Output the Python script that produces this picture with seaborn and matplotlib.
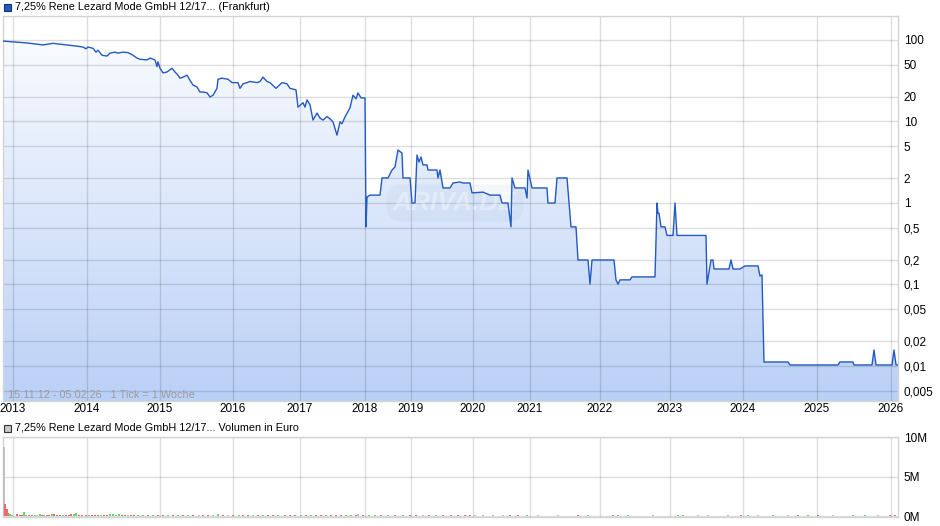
import numpy as np
import pandas as pd
import matplotlib
matplotlib.use("Agg")
import matplotlib.pyplot as plt
import seaborn as sns
from matplotlib.patches import Rectangle
from matplotlib.colors import LinearSegmentedColormap

# x axis is tick based (1 tick = 1 week, gaps skipped) -> positions are tick indices
year_labels = ['2013', '2014', '2015', '2016', '2017', '2018', '2019',
               '2020', '2021', '2022', '2023', '2024', '2025', '2026']
year_ticks = [10, 84, 157, 230, 297, 362, 408, 470, 527, 597, 667, 740, 814, 888]

price_ticks = [0, 10, 24, 30, 40, 50, 64, 74, 80, 83,
               85, 90, 93, 95, 99, 104, 107, 112, 115, 120,
               125, 130, 134, 137, 144, 147, 152, 154, 155, 157,
               160, 164, 169, 172, 175, 177, 180, 184, 187, 190,
               194, 197, 200, 204, 207, 210, 214, 215, 219, 225,
               229, 235, 237, 240, 244, 247, 254, 257, 260, 264,
               267, 273, 279, 284, 287, 290, 293, 295, 300, 302,
               304, 307, 310, 314, 317, 320, 324, 327, 330, 334,
               337, 339, 342, 347, 350, 353, 355, 358, 361, 362,
               363, 364, 367, 377, 379, 385, 389, 392, 395, 399,
               400, 407, 409, 412, 414, 416, 418, 420, 424, 425,
               434, 435, 437, 440, 447, 450, 457, 460, 467, 469,
               480, 487, 497, 499, 505, 508, 509, 512, 522, 524,
               525, 529, 544, 545, 552, 554, 564, 568, 573, 575,
               585, 587, 589, 611, 613, 615, 617, 627, 629, 652,
               654, 655, 656, 658, 662, 664, 670, 672, 674, 703,
               704, 708, 710, 711, 726, 728, 730, 737, 742, 755,
               757, 759, 761, 785, 787, 835, 837, 850, 851, 869,
               871, 873, 889, 891, 893, 895]
price_vals = [97, 95, 92, 90, 87, 91, 87, 84, 82, 78,
              82, 79, 71, 75, 65, 63.5, 69, 71, 69, 71,
              70, 65, 60, 58, 57, 60, 57, 47, 54, 45,
              39.5, 40.5, 45, 40.5, 37, 34, 35, 37, 32, 28,
              26.5, 23, 23, 22.5, 20, 21, 25.5, 33, 34, 33,
              30, 30, 25.5, 29, 30, 31, 30, 31, 35, 31,
              30, 25.5, 30, 29, 25.5, 25, 24.4, 15, 17, 15,
              18.4, 16, 10.4, 12.7, 11, 10.4, 11.5, 10.8, 9.9, 6.8,
              9.9, 9.4, 11.4, 14.7, 21, 19, 22.4, 19.5, 19.4, 19.4,
              0.51, 1.18, 1.25, 1.25, 2.03, 2.03, 2.54, 2.77, 4.47, 4.1,
              2.03, 2.03, 1.0, 1.0, 3.88, 3.18, 3.67, 2.93, 2.93, 2.54,
              2.54, 2.03, 2.54, 1.53, 1.53, 1.76, 1.81, 1.76, 1.76, 1.33,
              1.36, 1.25, 1.25, 1.0, 1.0, 0.51, 2.03, 1.53, 1.53, 1.15,
              2.54, 1.53, 1.53, 1.0, 1.0, 2.03, 2.03, 0.51, 0.51, 0.2,
              0.2, 0.101, 0.2, 0.2, 0.114, 0.101, 0.114, 0.114, 0.124, 0.124,
              1.0, 0.75, 0.75, 0.51, 0.51, 0.40, 0.40, 1.0, 0.40, 0.40,
              0.101, 0.2, 0.2, 0.155, 0.155, 0.2, 0.155, 0.155, 0.169, 0.169,
              0.127, 0.131, 0.0112, 0.0112, 0.0103, 0.0103, 0.0112, 0.0112, 0.0103, 0.0103,
              0.0157, 0.0103, 0.0103, 0.0157, 0.0103, 0.0103]

price_yticks = [100, 50, 20, 10, 5, 2, 1, 0.5, 0.2, 0.1, 0.05, 0.02, 0.01, 0.005]
price_ylabels = ['100', '50', '20', '10', '5', '2', '1', '0,5', '0,2', '0,1',
                 '0,05', '0,02', '0,01', '0,005']

# volume in million euro, colour: r = down, g = up, n = unchanged
vol_ticks = [1, 2, 4, 5, 7, 9, 14, 17, 19, 21,
             23, 26, 29, 32, 34, 37, 39, 41, 44, 46,
             49, 51, 54, 57, 60, 63, 66, 68, 71, 73,
             76, 79, 83, 86, 89, 92, 95, 98, 101, 104,
             107, 110, 113, 116, 119, 122, 125, 128, 131, 135,
             140, 145, 150, 155, 160, 165, 170, 175, 180, 185,
             190, 196, 200, 205, 210, 215, 220, 225, 230, 236,
             240, 245, 250, 255, 260, 265, 270, 275, 282, 287,
             292, 298, 303, 308, 313, 318, 323, 328, 333, 338,
             343, 348, 353, 355, 360, 366, 372, 378, 385, 392,
             400, 407, 413, 420, 426, 433, 440, 448, 455, 462,
             467, 472, 480, 490, 500, 507, 515, 524, 535, 555,
             575, 585, 610, 615, 625, 650, 675, 680, 695, 705,
             725, 738, 745, 755, 770, 785, 795, 805, 815, 830,
             850, 862, 875, 887, 892]
vol_vals = [8.7, 1.5, 0.9, 0.4, 0.25, 0.2, 0.25, 0.2, 0.2, 0.6,
            0.2, 0.2, 0.2, 0.2, 0.15, 0.25, 0.2, 0.2, 0.2, 0.15,
            0.3, 0.25, 0.15, 0.2, 0.2, 0.15, 0.2, 0.25, 0.3, 0.4,
            0.2, 0.15, 0.15, 0.15, 0.15, 0.2, 0.15, 0.2, 0.15, 0.15,
            0.25, 0.3, 0.2, 0.25, 0.15, 0.15, 0.15, 0.15, 0.2, 0.15,
            0.15, 0.15, 0.15, 0.15, 0.15, 0.15, 0.15, 0.2, 0.15, 0.15,
            0.15, 0.15, 0.15, 0.15, 0.15, 0.25, 0.15, 0.15, 0.15, 0.15,
            0.15, 0.15, 0.15, 0.15, 0.15, 0.15, 0.15, 0.15, 0.15, 0.2,
            0.15, 0.15, 0.15, 0.15, 0.15, 0.15, 0.15, 0.15, 0.15, 0.15,
            0.2, 0.15, 0.15, 0.25, 0.15, 0.15, 0.12, 0.12, 0.12, 0.12,
            0.12, 0.12, 0.12, 0.12, 0.12, 0.12, 0.12, 0.12, 0.12, 0.12,
            0.12, 0.12, 0.12, 0.12, 0.12, 0.12, 0.12, 0.12, 0.12, 0.12,
            0.12, 0.12, 0.12, 0.12, 0.12, 0.12, 0.12, 0.12, 0.12, 0.12,
            0.12, 0.12, 0.12, 0.12, 0.12, 0.12, 0.12, 0.12, 0.12, 0.12,
            0.12, 0.12, 0.12, 0.12, 0.12]
vol_dir = list('nrrrggrrrg'
               'grrgngrgrr'
               'grrrgrrrgg'
               'rrrgrrrgrr'
               'ggggrrgrrg'
               'grgrrgrgrg'
               'rnrrggrnrg'
               'rrgrgrrgrr'
               'rgrgrrgrrr'
               'ggrnrggrgr'
               'grrnrgrrrr'
               'rnnnnrrgnn'
               'rgrggnggnn'
               'nrgngnrgrn'
               'ggnrr')
vol_colors = {'r': '#ec6a6a', 'g': '#62dc62', 'n': '#c0c0c0'}

price_df = pd.DataFrame({'tick': price_ticks, 'price': price_vals})

sns.set_style("white")
plt.rcParams['font.family'] = ['Liberation Sans', 'DejaVu Sans']

W, H = 940, 526
fig = plt.figure(figsize=(W / 100, H / 100), dpi=100)
ax = fig.add_axes([3 / W, 1 - 401 / H, 895 / W, 385 / H])
axv = fig.add_axes([3 / W, 1 - 517 / H, 895 / W, 80 / H])

xmin, xmax = 0, 895
ylo, yhi = 0.00372, 197

# ---- price panel ----
ax.set_yscale('log')
ax.set_xlim(xmin, xmax)
ax.set_ylim(ylo, yhi)

poly = ax.fill_between(price_df['tick'], price_df['price'], ylo, facecolor='none',
                       edgecolor='none')
cmap = LinearSegmentedColormap.from_list('fill', ['#fdfeff', '#bad0f6'])
grad = np.linspace(0, 1, 256).reshape(-1, 1)
# row 0 (light) at the top of the panel, darkest at the bottom
im = ax.imshow(grad, cmap=cmap, aspect='auto', extent=[0, 1, 0, 1], origin='upper',
               transform=ax.transAxes, zorder=0.5)
im.set_clip_path(poly.get_paths()[0], transform=ax.transData)

sns.lineplot(data=price_df, x='tick', y='price', ax=ax, estimator=None, sort=False,
             color='#2359c2', linewidth=1.0, zorder=3)

ax.set_axisbelow('line')
ax.grid(True, color='black', alpha=0.13, linewidth=1)
ax.set_xticks(year_ticks)
ax.set_xticklabels(year_labels)
ax.set_yticks(price_yticks)
ax.set_yticklabels(price_ylabels)
ax.yaxis.set_minor_locator(matplotlib.ticker.NullLocator())
ax.yaxis.tick_right()
ax.tick_params(axis='both', length=0, labelsize=8.5, colors='black')
ax.tick_params(axis='y', pad=4)
ax.tick_params(axis='x', pad=1.5)
ax.set_xlabel('')
ax.set_ylabel('')
for sp in ax.spines.values():
    sp.set_color('#d4d4d4')
    sp.set_linewidth(1)

ax.text(0.006, 0.003, '15.11.12 - 05.02.26   1 Tick = 1 Woche', transform=ax.transAxes,
        fontsize=7.8, color='#9c9c9c', ha='left', va='bottom')

# watermark
ax.text(452, 1.0, 'ARIVA.DE', fontsize=19, fontweight='bold', fontstyle='italic',
        color='white', alpha=0.35, ha='center', va='center', zorder=2,
        bbox=dict(boxstyle='round,pad=0.25,rounding_size=0.6', facecolor='#7f9cc8',
                  edgecolor='none', alpha=0.08))

# ---- volume panel ----
axv.set_xlim(xmin, xmax)
axv.set_ylim(-0.08, 10)
axv.bar(vol_ticks, vol_vals, width=1.4, color=[vol_colors[c] for c in vol_dir],
        linewidth=0, zorder=3)
axv.set_axisbelow('line')
axv.grid(True, color='black', alpha=0.13, linewidth=1)
axv.set_xticks(year_ticks)
axv.set_xticklabels([])
axv.set_yticks([0, 5, 10])
axv.set_yticklabels(['0M', '5M', '10M'])
axv.yaxis.tick_right()
axv.tick_params(axis='both', length=0, labelsize=8.5, colors='black')
axv.tick_params(axis='y', pad=4)
for sp in axv.spines.values():
    sp.set_color('#d4d4d4')
    sp.set_linewidth(1)

# panel titles with legend squares
fig.patches.append(Rectangle((4 / W, 1 - 11 / H), 7 / W, 7 / H, transform=fig.transFigure,
                             facecolor='#1f5bc6', edgecolor='#1a2f66', linewidth=0.8))
fig.text(15 / W, 1 - 7 / H, '7,25% Rene Lezard Mode GmbH 12/17... (Frankfurt)',
         fontsize=7.8, ha='left', va='center', color='black')
fig.patches.append(Rectangle((4 / W, 1 - 432 / H), 7 / W, 7 / H, transform=fig.transFigure,
                             facecolor='#c8c8c8', edgecolor='#333333', linewidth=0.8))
fig.text(15 / W, 1 - 428 / H, '7,25% Rene Lezard Mode GmbH 12/17... Volumen in Euro',
         fontsize=7.8, ha='left', va='center', color='black')

fig.savefig('out.png', dpi=100)
